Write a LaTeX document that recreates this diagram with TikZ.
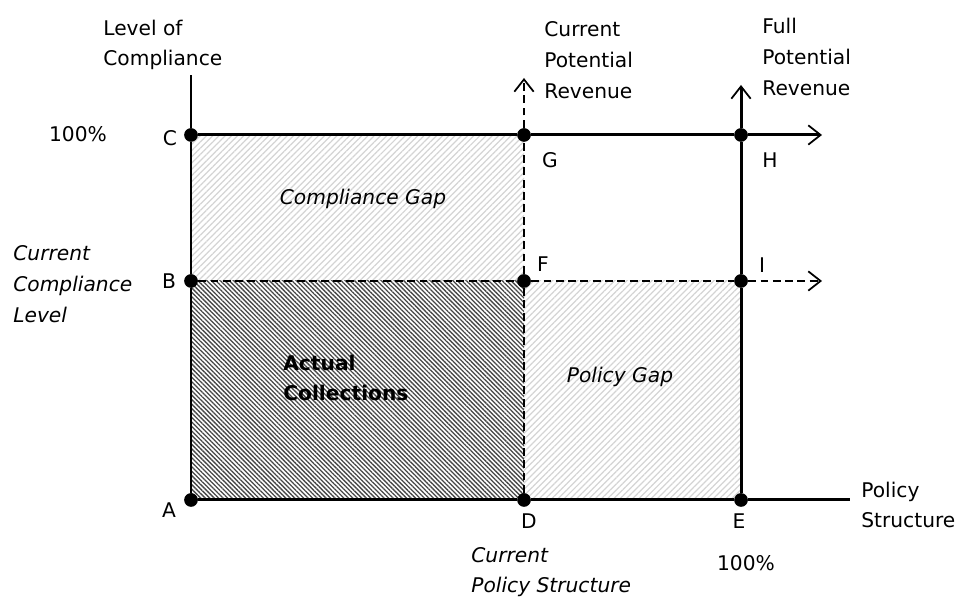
\documentclass[tikz,border=0pt]{standalone}
\usepackage{fontspec}
\setmainfont{DejaVu Sans}
\usetikzlibrary{arrows.meta,patterns.meta,backgrounds}

\newcommand{\tamrot}{\fontsize{11.5}{17.5}\selectfont}

\tikzset{
  punto/.style={circle,fill=black,inner sep=0pt,minimum size=7.8pt},
  eje/.style={line width=1.7pt},
  guia/.style={line width=1.4pt,dash pattern=on 4.5pt off 2.5pt},
  flecha/.style={-{Straight Barb[length=7pt,width=11pt,line width=1pt]}},
  rotulo/.style={font=\tamrot,inner sep=0pt},
  izq/.style={anchor=west,align=left},
  cursiva/.style={font=\tamrot\itshape,inner sep=0pt},
  negrita/.style={font=\tamrot\bfseries,inner sep=0pt},
  rayadoclaro/.style={pattern={Lines[angle=45,distance=2.5pt,line width=0.7pt]},pattern color=black!17},
  rayadooscuro/.style={pattern={Lines[angle=-45,distance=1.8pt,line width=0.75pt]},pattern color=black!72}
}

\begin{document}
\begin{tikzpicture}[x=0.02cm,y=0.02cm]
\useasboundingbox (0,0) rectangle (960,597);

% Puntos de la grilla
\node[punto] (A) at (191,97) {};
\node[punto] (D) at (524,97) {};
\node[punto] (E) at (741,97) {};
\node[punto] (B) at (191,316) {};
\node[punto] (F) at (524,316) {};
\node[punto] (I) at (741,316) {};
\node[punto] (C) at (191,462) {};
\node[punto] (G) at (524,462) {};
\node[punto] (H) at (741,462) {};

% Extremos libres de los ejes
\coordinate (finX) at (850,97);
\coordinate (finY) at (191,522);
\coordinate (puntaH) at (822,462);
\coordinate (puntaE) at (741,512);
\coordinate (puntaI) at (822,316);
\coordinate (puntaD) at (524,519);

% Zonas rayadas
\begin{scope}[on background layer]
  \fill[rayadoclaro] (B.center) rectangle (G.center);   % brecha de cumplimiento
  \fill[rayadooscuro] (A.center) rectangle (F.center);  % recaudacion
  \fill[rayadoclaro] (D.center) rectangle (I.center);   % brecha de politica
\end{scope}

% Ejes y lineas
\draw[eje] (A) -- (D) -- (E) -- (finX);
\draw[eje] (A) -- (B) -- (C) -- (finY);
\draw[eje,flecha] (C) -- (G) -- (H) -- (puntaH);
\draw[eje,flecha] (E) -- (I) -- (H) -- (puntaE);
\draw[guia,flecha] (B) -- (F) -- (I) -- (puntaI);
\draw[guia,flecha] (D) -- (F) -- (G) -- (puntaD);

% Letras de los puntos
\node[rotulo] (lA) at (169,87) {A};
\node[rotulo] (lB) at (169,316) {B};
\node[rotulo] (lC) at (170,459) {C};
\node[rotulo] (lD) at (529,76) {D};
\node[rotulo] (lE) at (739,76) {E};
\node[rotulo] (lF) at (543,333) {F};
\node[rotulo] (lG) at (550,437) {G};
\node[rotulo] (lH) at (770,437) {H};
\node[rotulo] (lI) at (762,332) {I};

% Titulos de los ejes
\node[rotulo,izq] (nivel) at (103,552) {Level of\\Compliance};
\node[rotulo,izq] (potactual) at (544,537) {Current\\Potential\\Revenue};
\node[rotulo,izq] (potplena) at (762,540) {Full\\Potential\\Revenue};
\node[rotulo,izq] (estructura) at (861,92) {Policy\\Structure};
\node[rotulo] (cienY) at (78,463) {100\%};
\node[rotulo] (cienX) at (746,34) {100\%};
\node[cursiva,izq] (cumpactual) at (13,313) {Current\\Compliance\\Level};
\node[cursiva,izq] (polactual) at (471,25) {Current\\Policy Structure};

% Nombres de las zonas
\node[cursiva] (brechacump) at (363,398) {Compliance Gap};
\node[negrita,izq] (recaudo) at (283,219) {Actual\\Collections};
\node[cursiva] (brechapol) at (620,220) {Policy Gap};
\end{tikzpicture}
\end{document}
